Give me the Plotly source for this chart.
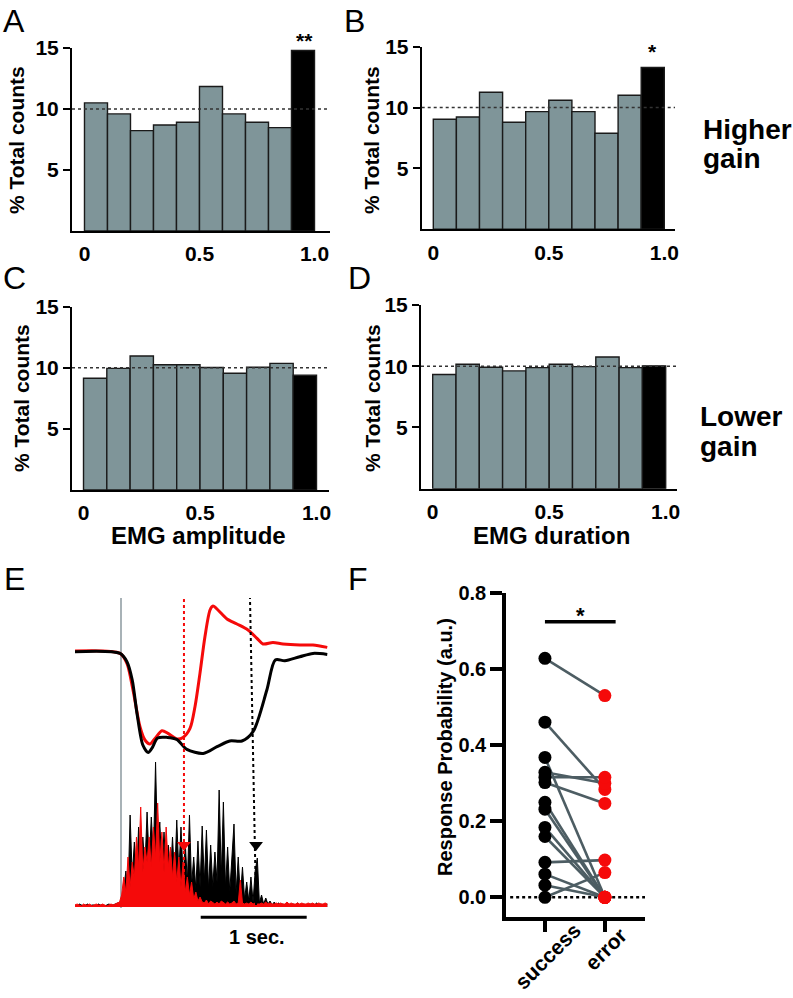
import plotly.graph_objects as go

W, H = 793, 998
def px(x): return x / W
def py(y): return 1 - y / H

FONT = "Liberation Sans, Arial, sans-serif"
GRAY_BAR = "#7f9599"
RED = "#f50a0a"

# ---------------- data ----------------
bin_centers = [0.05, 0.15, 0.25, 0.35, 0.45, 0.55, 0.65, 0.75, 0.85, 0.95]
hist_A = [10.5, 9.6, 8.23, 8.69, 8.91, 11.85, 9.6, 8.91, 8.47, 14.8]
hist_B = [9.04, 9.23, 11.26, 8.79, 9.67, 10.6, 9.67, 7.89, 11.01, 13.29]
hist_C = [9.15, 9.95, 10.96, 10.25, 10.25, 10.03, 9.56, 10.05, 10.36, 9.4]
hist_D = [9.32, 10.16, 9.92, 9.62, 9.89, 10.16, 9.97, 10.76, 9.89, 10.03]
chance_level = 10
hist_yticks = [5, 10, 15]
hist_xticks = [0, 0.5, 1.0]
hist_xticktext = ["0", "0.5", "1.0"]

# panel F
f_categories = ["success", "error"]
success_vals = [0.629, 0.461, 0.368, 0.329, 0.316, 0.302, 0.25, 0.232, 0.184, 0.16, 0.092, 0.061, 0.032, 0.0]
error_vals = [0.531, 0.284, 0.0, 0.30, 0.316, 0.247, 0.0, 0.0, 0.0, 0.0, 0.098, 0.0, 0.0, 0.065]
f_yticks = [0.0, 0.2, 0.4, 0.6, 0.8]
f_sig_level = 0.725

# panel E: hand position traces (time in s, position in a.u.)
pos_black_t = [0.0, 0.425, 0.49, 0.54, 0.585, 0.64, 0.69, 0.725, 0.78, 0.87, 0.96, 1.055, 1.21,
               1.34, 1.46, 1.575, 1.68, 1.81, 1.89, 1.98, 2.12, 2.245, 2.38]
pos_black = [0, -0.017, -0.10, -0.283, -0.617, -0.933, -1.007, -0.967, -0.863, -0.857, -0.877,
             -0.977, -1.017, -0.95, -0.893, -0.893, -0.80, -0.383, -0.083, -0.09, -0.05, -0.017, -0.027]
pos_red_t = [0.0, 0.425, 0.49, 0.547, 0.613, 0.66, 0.708, 0.755, 0.821, 0.877, 0.962, 1.019, 1.085,
             1.132, 1.179, 1.226, 1.274, 1.302, 1.349, 1.434, 1.528, 1.632, 1.717, 1.774, 1.868,
             1.962, 2.123, 2.245, 2.38]
pos_red = [0.007, -0.017, -0.117, -0.383, -0.75, -0.883, -0.923, -0.867, -0.79, -0.817, -0.873,
           -0.857, -0.767, -0.55, -0.217, 0.15, 0.417, 0.457, 0.417, 0.327, 0.277, 0.217, 0.133,
           0.077, 0.093, 0.077, 0.067, 0.067, 0.043]

# EMG envelopes, sampled every 0.02 s
emg_dt = 0.02
emg_black = [2, 1, 3, 2, 1, 2, 3, 1, 2, 2, 1, 3, 2, 2, 1, 2, 3, 2, 2, 3, 4,
             3, 6, 18, 36, 14, 92, 30, 65, 25, 80,
             35, 70, 40, 95, 45, 90, 50, 145, 55, 85,
             40, 75, 35, 62, 30, 70, 28, 87, 35, 80,
             30, 65, 25, 92, 22, 50, 18, 66, 20, 81,
             25, 77, 18, 62, 20, 55, 25, 117, 30, 105,
             20, 60, 15, 45, 83, 14, 50, 10, 40, 8,
             25, 6, 30, 5, 36, 49, 4, 12, 3, 9,
             3, 6, 2, 5, 2, 4, 2, 3, 2,
             3, 2, 2, 3, 2, 4, 2, 2, 3, 2, 2, 3, 2, 2, 4, 2, 3, 2, 2, 3]
emg_red = [2, 3, 2, 1, 3, 2, 2, 3, 1, 2, 3, 2, 2, 3, 2, 1, 2, 3, 2, 3, 4,
           5, 12, 30, 15, 50, 20, 45, 30, 70, 40,
           100, 35, 60, 45, 70, 40, 80, 50, 104, 45,
           75, 35, 80, 40, 60, 30, 55, 25, 50, 20,
           45, 15, 30, 12, 25, 8, 15, 6, 10, 5,
           4, 7, 3, 6, 4, 3, 5, 3, 6, 4, 3, 5, 3, 4, 6, 3, 4, 27, 4, 3,
           4, 3, 5, 3, 4, 3, 3, 4, 3, 5, 3, 4, 3, 3, 4, 3, 4, 3, 3, 5,
           3, 4, 3, 3, 4, 3, 4, 3, 3, 4, 3, 4, 3, 3, 4, 3, 3, 4, 3]
emg_black_t = [round(i * emg_dt, 3) for i in range(len(emg_black))]
emg_red_t = [round(i * emg_dt, 3) for i in range(len(emg_red))]
go_time = 0.434
error_end_time = 1.028
success_end_time_top = 1.651
success_end_time = 1.708
arrow_level = 62
scale_bar = [1.186, 2.186]

fig = go.Figure()

# ---------------- histograms ----------------
hist_panels = [
    ("x", "y", hist_A), ("x2", "y2", hist_B), ("x3", "y3", hist_C), ("x4", "y4", hist_D)
]
for xa, ya, vals in hist_panels:
    fig.add_trace(go.Bar(
        x=bin_centers, y=vals, width=0.1, xaxis=xa, yaxis=ya,
        marker=dict(color=[GRAY_BAR] * 9 + ["black"], line=dict(color="#1a1a1a", width=1.4)),
        hoverinfo="skip"))

# ---------------- panel F ----------------
for s, e in zip(success_vals, error_vals):
    fig.add_trace(go.Scatter(x=f_categories, y=[s, e], mode="lines", xaxis="x5", yaxis="y5",
                             line=dict(color="#4d5d63", width=2.6), hoverinfo="skip"))
fig.add_trace(go.Scatter(x=[f_categories[0]] * len(success_vals), y=success_vals, mode="markers",
                         xaxis="x5", yaxis="y5", marker=dict(color="black", size=13, line=dict(width=0))))
fig.add_trace(go.Scatter(x=[f_categories[1]] * len(error_vals), y=error_vals, mode="markers",
                         xaxis="x5", yaxis="y5", marker=dict(color=RED, size=13, line=dict(width=0))))

# ---------------- panel E ----------------
fig.add_trace(go.Scatter(x=emg_black_t, y=emg_black, mode="lines", xaxis="x6", yaxis="y7",
                         line=dict(color="black", width=1), fill="tozeroy", fillcolor="black"))
fig.add_trace(go.Scatter(x=emg_red_t, y=emg_red, mode="lines", xaxis="x6", yaxis="y7",
                         line=dict(color=RED, width=1), fill="tozeroy", fillcolor=RED))
fig.add_trace(go.Scatter(x=pos_red_t, y=pos_red, mode="lines", xaxis="x6", yaxis="y6",
                         line=dict(color=RED, width=3, shape="spline", smoothing=0.8)))
fig.add_trace(go.Scatter(x=pos_black_t, y=pos_black, mode="lines", xaxis="x6", yaxis="y6",
                         line=dict(color="black", width=3, shape="spline", smoothing=0.8)))
fig.add_trace(go.Scatter(x=[error_end_time, success_end_time], y=[arrow_level, arrow_level],
                         mode="markers", xaxis="x6", yaxis="y7",
                         marker=dict(symbol="triangle-down", size=12, color=[RED, "black"],
                                     line=dict(width=0))))

# ---------------- layout ----------------
tickfont = dict(family=FONT, size=21, color="black", weight="bold")

def hist_axes(xdom_px, ydom_px, xrange, anchor_x, anchor_y):
    xa = dict(domain=[px(xdom_px[0]), px(xdom_px[1])], range=xrange, anchor=anchor_y,
              automargin=False,
              showline=True, linecolor="black", linewidth=2, showgrid=False, zeroline=False,
              tickvals=hist_xticks, ticktext=hist_xticktext, ticks="outside", ticklen=3,
              tickcolor="rgba(0,0,0,0)", tickfont=tickfont)
    ya = dict(domain=[py(ydom_px[1]), py(ydom_px[0])], range=[0, 15], anchor=anchor_x,
              automargin=False,
              showline=True, linecolor="black", linewidth=2, showgrid=False, zeroline=False,
              tickvals=hist_yticks, ticks="outside", ticklen=7, tickwidth=2, tickcolor="black",
              tickfont=tickfont)
    return xa, ya

xa1, ya1 = hist_axes((72, 330), (48, 231), [-0.0543, 1.0674], "x", "y")
xa2, ya2 = hist_axes((421.7, 675), (46.7, 229.3), [-0.0502, 1.0463], "x2", "y2")
xa3, ya3 = hist_axes((72, 329), (306.7, 490), [-0.0494, 1.0536], "x3", "y3")
xa4, ya4 = hist_axes((421, 676.7), (305, 488.7), [-0.0502, 1.0472], "x4", "y4")

xa5 = dict(domain=[px(506), px(645)], range=[-0.65, 1.67], anchor="y5", showline=True,
           automargin=False,
           linecolor="black", linewidth=3.5, showgrid=False, zeroline=False, type="category",
           ticks="outside", ticklen=12, tickwidth=3.5, tickcolor="black", showticklabels=False)
ya5 = dict(domain=[py(916.7), py(593.3)], range=[-0.051, 0.8], anchor="x5", showline=True,
           automargin=False,
           linecolor="black", linewidth=3.5, showgrid=False, zeroline=False,
           tickvals=f_yticks, tickformat=".1f", ticks="outside", ticklen=12, tickwidth=3.5,
           tickcolor="black", tickfont=dict(family=FONT, size=20, color="black", weight="bold"))

xa6 = dict(domain=[px(75), px(328)], range=[0, 2.387], anchor="y6", visible=False, automargin=False)
ya6 = dict(domain=[py(770), py(590)], range=[-1.183, 0.617], anchor="x6", visible=False, automargin=False)
ya7 = dict(domain=[py(921), py(750)], range=[-14, 157], anchor="x6", visible=False, automargin=False)

shapes = []
# chance level lines in A-D
for xa, ya in [("x", "y"), ("x2", "y2"), ("x3", "y3"), ("x4", "y4")]:
    shapes.append(dict(type="line", xref=f"{xa} domain", yref=ya, x0=0, x1=1,
                       y0=chance_level, y1=chance_level,
                       line=dict(color="#333", width=1.4, dash="dot"), layer="above"))
# F zero line and significance bar
shapes.append(dict(type="line", xref="x5 domain", yref="y5", x0=0.03, x1=1, y0=0, y1=0,
                   line=dict(color="black", width=2.5, dash="dot"), layer="below"))
shapes.append(dict(type="line", xref="x5", yref="y5", x0=0.0, x1=1.18,
                   y0=f_sig_level, y1=f_sig_level, line=dict(color="black", width=3.5)))
# E event lines
shapes.append(dict(type="line", xref="x6", yref="paper", x0=go_time, x1=go_time,
                   y0=py(908), y1=py(598), line=dict(color="#6e7f86", width=1.2), layer="below"))
shapes.append(dict(type="line", xref="x6", yref="paper", x0=error_end_time, x1=error_end_time,
                   y0=py(878), y1=py(598), line=dict(color=RED, width=2, dash="dot")))
shapes.append(dict(type="line", xref="x6", yref="paper", x0=success_end_time, x1=success_end_time_top,
                   y0=py(905), y1=py(598), line=dict(color="black", width=2, dash="dot")))
shapes.append(dict(type="line", xref="x6", yref="paper", x0=scale_bar[0], x1=scale_bar[1],
                   y0=py(917.3), y1=py(917.3), line=dict(color="black", width=3)))

def ann(text, x, y, size, bold=True, xanchor="center", yanchor="middle", angle=0, xref="paper", yref="paper"):
    return dict(text=text, x=x, y=y, xref=xref, yref=yref, showarrow=False, xanchor=xanchor,
                yanchor=yanchor, textangle=angle,
                font=dict(family=FONT, size=size, color="black", weight="bold" if bold else "normal"))

annotations = [
    ann("A", px(1), py(21.5), 32, bold=False, xanchor="left"),
    ann("B", px(342), py(21.5), 32, bold=False, xanchor="left"),
    ann("C", px(1), py(277.5), 32, bold=False, xanchor="left"),
    ann("D", px(346), py(277.5), 32, bold=False, xanchor="left"),
    ann("E", px(2), py(578.5), 32, bold=False, xanchor="left"),
    ann("F", px(346), py(578.5), 32, bold=False, xanchor="left"),
    ann("% Total counts", px(16), py(140), 21, angle=-90),
    ann("% Total counts", px(371), py(140), 21, angle=-90),
    ann("% Total counts", px(21), py(398), 21, angle=-90),
    ann("% Total counts", px(372), py(398), 21, angle=-90),
    ann("EMG amplitude", px(198), py(535.5), 24),
    ann("EMG duration", px(551.7), py(535.5), 24),
    ann("Higher", px(701), py(129.5), 28, xanchor="left"),
    ann("gain", px(701), py(158), 28, xanchor="left"),
    ann("Lower", px(697.7), py(416), 28, xanchor="left"),
    ann("gain", px(697.7), py(446), 28, xanchor="left"),
    ann("**", px(304), py(40.5), 21),
    ann("*", px(652.7), py(51.5), 21),
    ann("*", px(580), py(615.5), 22),
    ann("Response Probability (a.u.)", px(445), py(747), 20, angle=-90),
    ann("1 sec.", px(256.7), py(936.5), 20),
    ann(f_categories[0], px(547), py(956), 21, angle=-45),
    ann(f_categories[1], px(605), py(949), 21, angle=-45),
]

fig.update_layout(
    template="none",
    width=W, height=H, margin=dict(l=0, r=0, t=0, b=0, autoexpand=False),
    paper_bgcolor="white", plot_bgcolor="rgba(0,0,0,0)", showlegend=False,
    xaxis=xa1, yaxis=ya1, xaxis2=xa2, yaxis2=ya2, xaxis3=xa3, yaxis3=ya3,
    xaxis4=xa4, yaxis4=ya4, xaxis5=xa5, yaxis5=ya5, xaxis6=xa6, yaxis6=ya6, yaxis7=ya7,
    shapes=shapes, annotations=annotations, font=dict(family=FONT),
)

fig.write_html("out.html")
